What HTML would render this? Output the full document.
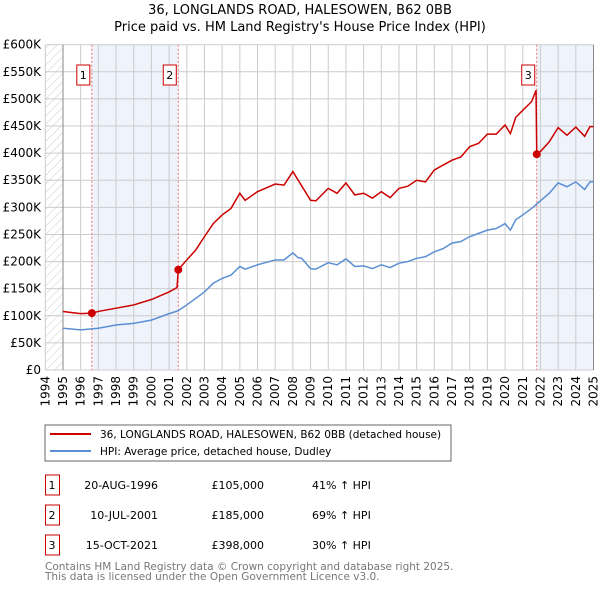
<!DOCTYPE html>
<html><head><meta charset="utf-8"><style>
body{margin:0;background:#fff;font-family:"DejaVu Sans","Liberation Sans",sans-serif;}
svg text{font-family:"DejaVu Sans","Liberation Sans",sans-serif;}
</style></head><body>
<svg id="c" width="600" height="590" xmlns="http://www.w3.org/2000/svg">
<defs><pattern id="hatch" width="6" height="6" patternUnits="userSpaceOnUse" patternTransform="rotate(45)"><line x1="0" y1="0" x2="0" y2="6" stroke="#ccc" stroke-width="1"/></pattern></defs>
<text x="300" y="14" text-anchor="middle" font-size="13">36, LONGLANDS ROAD, HALESOWEN, B62 0BB</text>
<text x="300" y="31" text-anchor="middle" font-size="13">Price paid vs. HM Land Registry's House Price Index (HPI)</text>
<g id="plot"></g>
<rect x="45" y="425" width="406" height="36" fill="#fff" stroke="#666"/>
<line x1="50" y1="434" x2="91" y2="434" stroke="#cc0000" stroke-width="2"/>
<text x="100" y="438" font-size="10.5">36, LONGLANDS ROAD, HALESOWEN, B62 0BB (detached house)</text>
<line x1="50" y1="451" x2="91" y2="451" stroke="#5b8fd4" stroke-width="2"/>
<text x="100" y="455" font-size="10.5">HPI: Average price, detached house, Dudley</text>
<g id="table" font-size="11"></g>
<text x="45" y="570" font-size="10.5" fill="#777">Contains HM Land Registry data © Crown copyright and database right 2025.</text>
<text x="45" y="580" font-size="10.5" fill="#777">This data is licensed under the Open Government Licence v3.0.</text>
</svg>
<script>
const hpiYears=[1995,1996,1997,1998,1999,2000,2001,2001.5,2002,2003,2003.5,2004,2004.5,2005,2005.3,2006,2007,2007.5,2008,2008.3,2008.5,2009,2009.3,2010,2010.5,2011,2011.5,2012,2012.5,2013,2013.5,2014,2014.5,2015,2015.5,2016,2016.5,2017,2017.5,2018,2018.5,2019,2019.5,2020,2020.3,2020.6,2021,2021.5,2022,2022.5,2023,2023.5,2024,2024.5,2024.8,2025];
const hpiValues=[77,74,77,83,86,92,104,109,120,144,160,169,175,191,186,194,203,203,216,207,206,187,186,198,194,205,191,192,187,194,189,197,200,206,209,218,224,234,237,246,252,258,261,270,258,277,286,298,312,326,345,338,347,333,347,347];
const priceYears=[1995,1996,1996.63,1997,1998,1999,2000,2001,2001.45,2001.52,2002,2002.5,2003,2003.5,2004,2004.5,2005,2005.3,2006,2007,2007.5,2008,2008.3,2009,2009.3,2010,2010.5,2011,2011.5,2012,2012.5,2013,2013.5,2014,2014.5,2015,2015.5,2016,2016.5,2017,2017.5,2018,2018.5,2019,2019.5,2020,2020.3,2020.6,2021,2021.5,2021.75,2021.79,2022,2022.5,2023,2023.5,2024,2024.5,2024.8,2025];
const priceValues=[108,104,105,108,114,120,130,144,152,185,203,221,246,270,286,298,326,313,329,343,341,366,350,313,312,335,326,345,323,326,317,329,318,335,339,350,347,369,378,387,393,412,418,435,435,452,436,466,479,495,516,398,403,421,447,433,448,431,449,449];
const saleYears=[1996.63,2001.52,2021.79];
const salePrices=[105,185,398];
const saleLabels=["1","2","3"];
const saleDates=["20-AUG-1996","10-JUL-2001","15-OCT-2021"];
const salePriceText=["£105,000","£185,000","£398,000"];
const saleHpiText=["41% ↑ HPI","69% ↑ HPI","30% ↑ HPI"];
const yTicks=[0,50,100,150,200,250,300,350,400,450,500,550,600];
const xTicks=[1994,1995,1996,1997,1998,1999,2000,2001,2002,2003,2004,2005,2006,2007,2008,2009,2010,2011,2012,2013,2014,2015,2016,2017,2018,2019,2020,2021,2022,2023,2024,2025];

const NS="http://www.w3.org/2000/svg";
const X0=45.3,X1=593.5,Y0=370,Y1=44.7;
const x=y=>X0+(y-1994)/31*(X1-X0);
const yv=v=>Y0-v/600*(Y0-Y1);
const plot=document.getElementById('plot');
function mk(tag,attrs,parent){const e=document.createElementNS(NS,tag);for(const k in attrs)e.setAttribute(k,attrs[k]);(parent||plot).appendChild(e);return e;}

let r=mk('rect',{x:x(1994),y:Y1,width:x(1995)-x(1994),height:Y0-Y1,fill:'url(#hatch)'});


r=mk('rect',{x:x(saleYears[0]),y:Y1,width:x(saleYears[1])-x(saleYears[0]),height:Y0-Y1,fill:'#eef3fc'});


r=mk('rect',{x:x(saleYears[2]),y:Y1,width:X1-x(saleYears[2]),height:Y0-Y1,fill:'#eef3fc'});



yTicks.forEach(v=>{
 const l=mk('line',{x1:X0,x2:X1,y1:yv(v),y2:yv(v),stroke:'#ccc'});
 
 
 const t=mk('text',{x:41,y:yv(v)+4,'text-anchor':'end','font-size':12});
 t.textContent=v===0?'£0':'£'+v+'K';
 
 
});
xTicks.forEach(yr=>{
 const l=mk('line',{x1:x(yr),x2:x(yr),y1:Y1,y2:Y0,stroke:'#ccc'});
 
 
 const t=mk('text',{transform:`translate(${x(yr)+4},376) rotate(-90)`,'text-anchor':'end','font-size':12});
 t.textContent=yr;
 
 
});
let ax=mk('line',{x1:x(1995),x2:x(1995),y1:Y1,y2:Y0,stroke:'#888'});


ax=mk('line',{x1:X1,x2:X1,y1:Y1,y2:Y0,stroke:'#888'});



saleYears.forEach((s,i)=>{
 const l=mk('line',{x1:x(s),x2:x(s),y1:Y1,y2:Y0,stroke:'#f07070','stroke-dasharray':'2,2'});
 
 
});

let p=mk('polyline',{points:hpiYears.map((d,i)=>x(d)+','+yv(hpiValues[i])).join(' '),fill:'none',stroke:'#5b8fd4','stroke-width':1.5});


p=mk('polyline',{points:priceYears.map((d,i)=>x(d)+','+yv(priceValues[i])).join(' '),fill:'none',stroke:'#cc0000','stroke-width':1.5});



saleYears.forEach((s,i)=>{
 const c=mk('circle',{cx:x(s),cy:yv(salePrices[i]),r:4,fill:'#cc0000'});
 
 
 const bx=mk('rect',{x:x(s)-15,y:65,width:13,height:20,fill:'#fff',stroke:'#cc0000'});
 
 
 const t=mk('text',{x:x(s)-8.5,y:79,'text-anchor':'middle','font-size':11});
 t.textContent=saleLabels[i];
 
 
});

const tb=document.getElementById('table');
saleLabels.forEach((lb,i)=>{
 const cy=483+i*30;
 const bx=mk('rect',{x:45.5,y:cy-8,width:14,height:20,fill:'#fff',stroke:'#cc0000'},tb);
 
 
 const cells=[[52,lb,'middle'],[158,saleDates[i],'end'],[264,salePriceText[i],'end'],[312,saleHpiText[i],'start']];
 cells.forEach((c,j)=>{
  const t=mk('text',{x:c[0],y:cy+6,'text-anchor':c[2]},tb);
  t.textContent=c[1];
  
  
 });
});
</script>
</body></html>
